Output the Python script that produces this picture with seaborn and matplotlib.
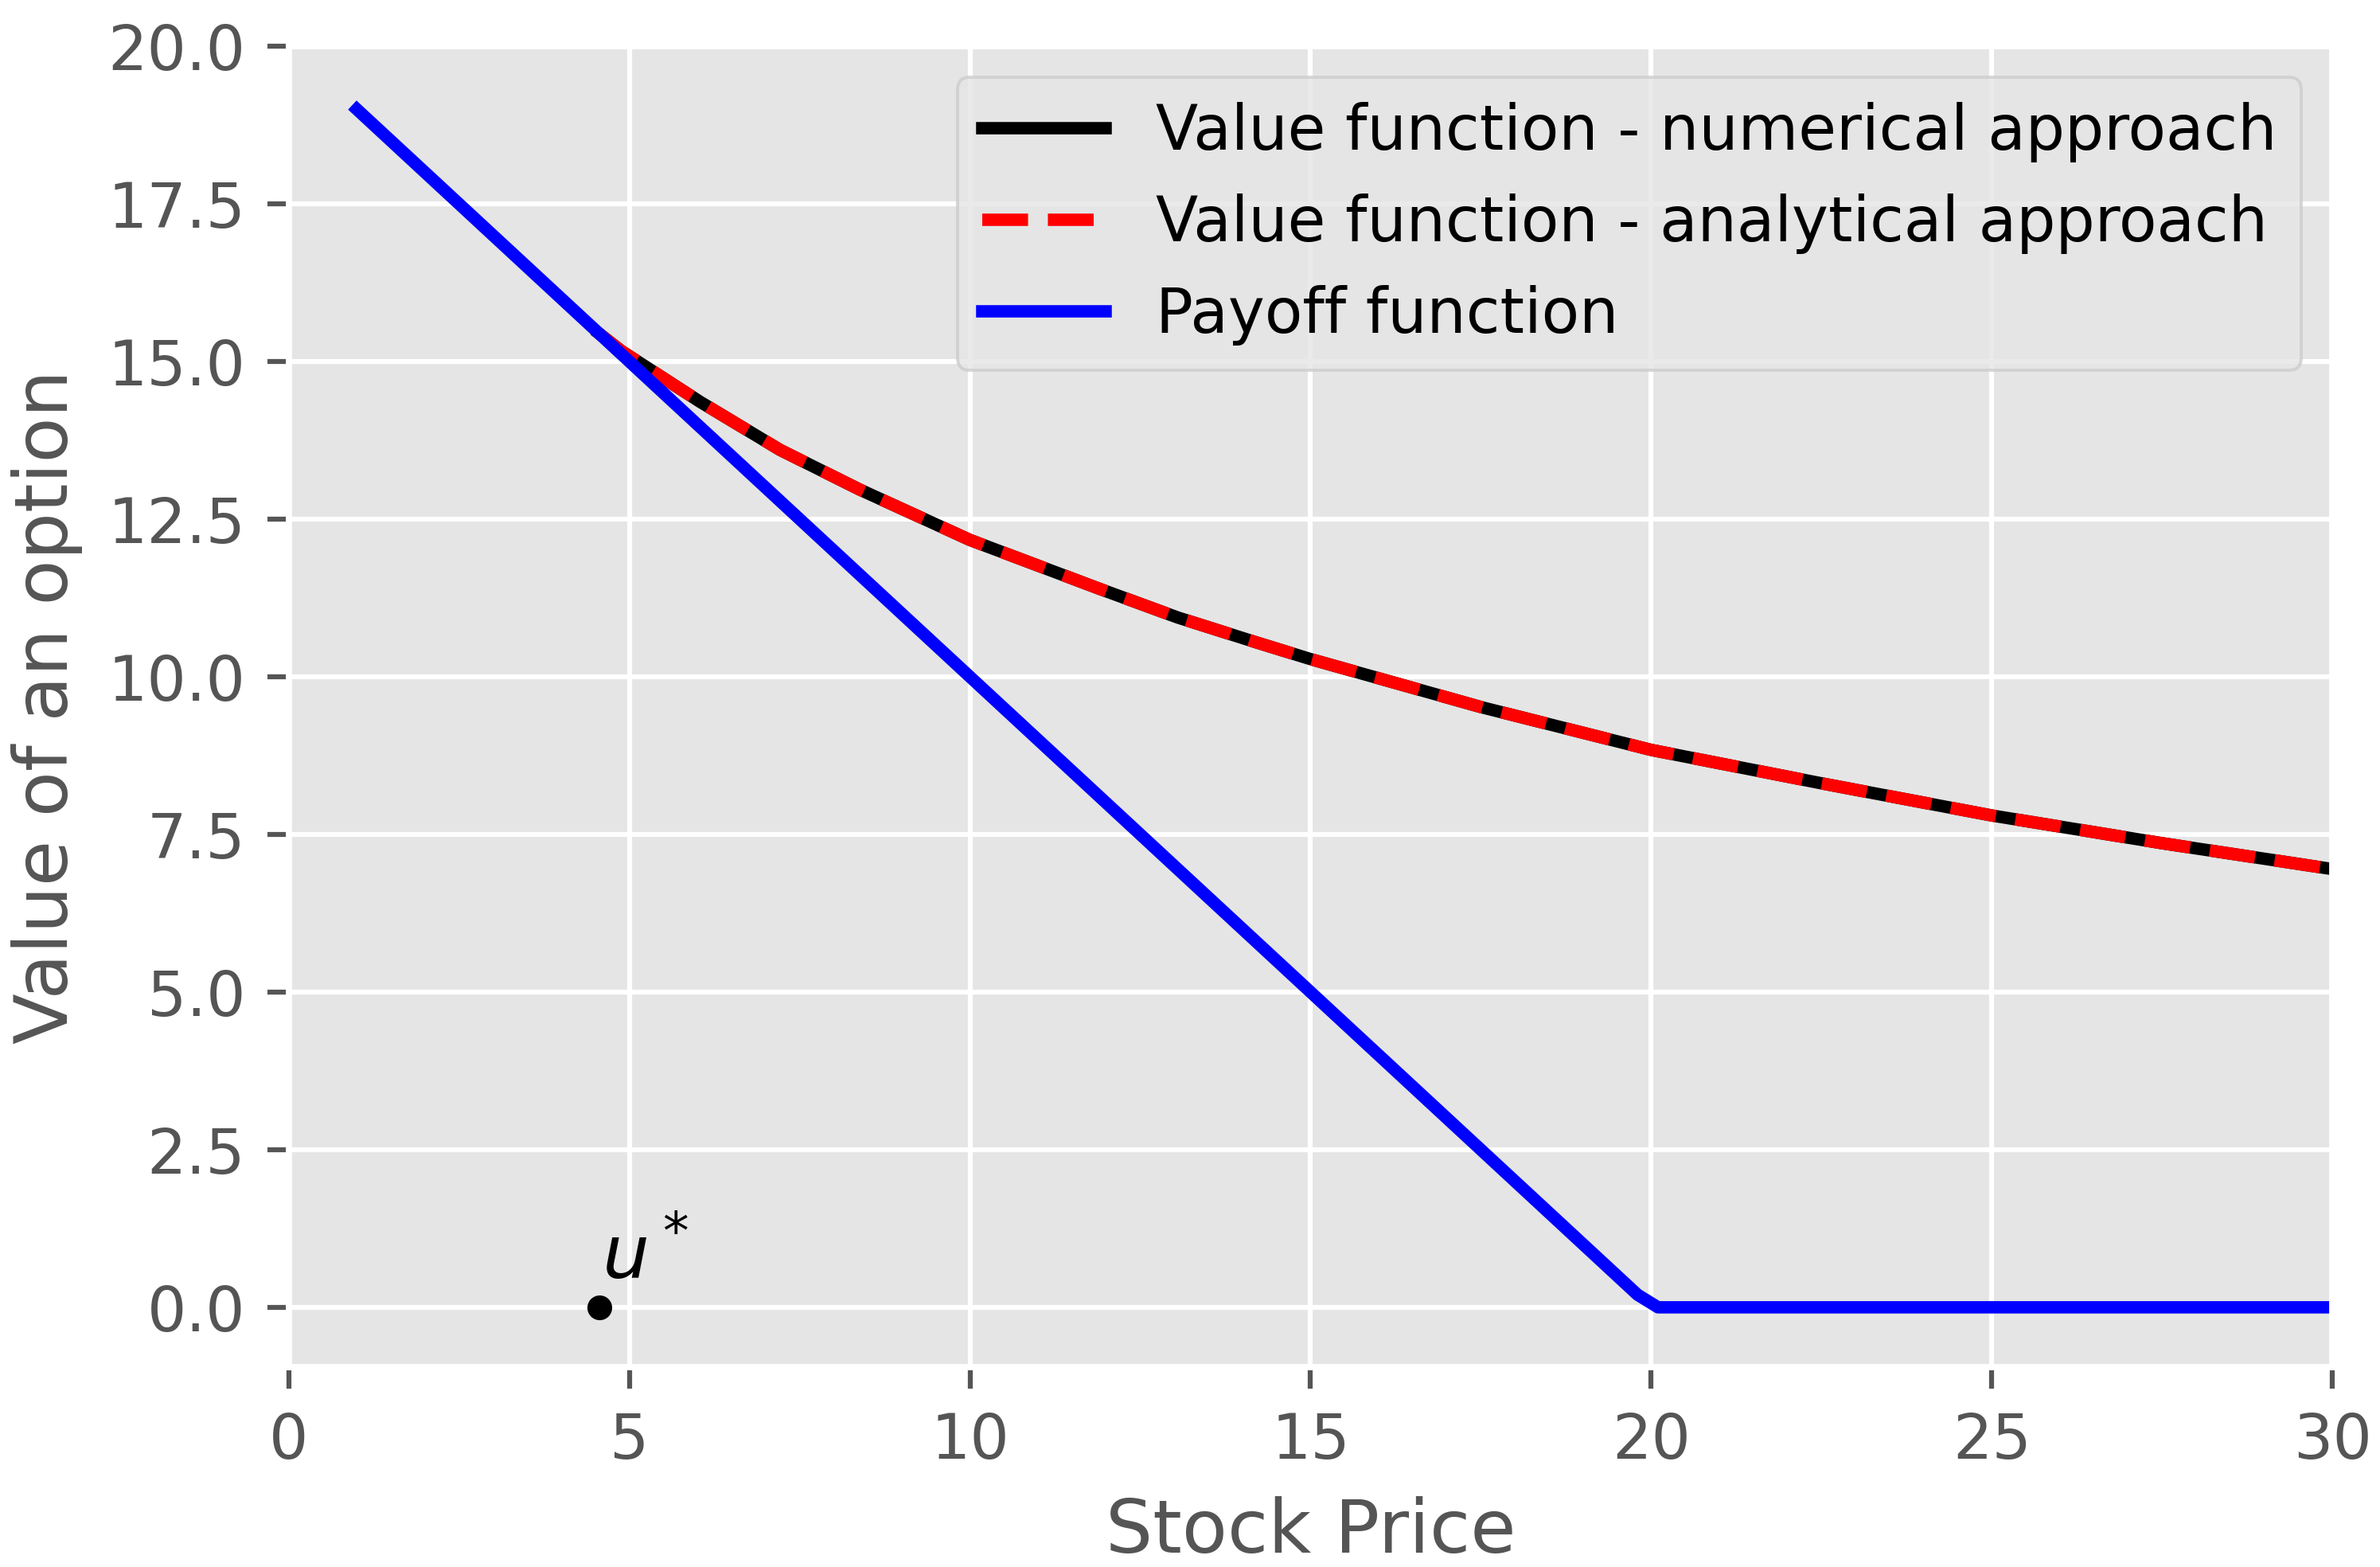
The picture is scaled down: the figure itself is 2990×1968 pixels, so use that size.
import numpy as np
import pandas as pd
import matplotlib
matplotlib.use("Agg")
import matplotlib.pyplot as plt
import seaborn as sns

# === DATA ===
stock_price = [4.56, 4.88, 6.04, 7.21, 8.38, 10.0, 11.89, 13.05, 14.22, 15.0,
               17.5, 20.0, 22.5, 25.0, 27.5, 30.0]
value_numerical = [15.44, 15.17, 14.36, 13.60, 12.97, 12.17, 11.40, 10.94, 10.54, 10.28,
                   9.52, 8.84, 8.31, 7.80, 7.36, 6.95]
value_analytical = [15.44, 15.17, 14.36, 13.60, 12.97, 12.17, 11.40, 10.94, 10.54, 10.28,
                    9.52, 8.84, 8.31, 7.80, 7.36, 6.95]

payoff_price = [1.0, 19.8, 20.1, 30.0]
payoff_value = [19.0, 0.2, 0.0, 0.0]

u_star = 4.56

# === STYLE ===
plt.style.use("ggplot")
plt.rcParams["font.family"] = ["DejaVu Sans"]

# small figure at high dpi -> everything scales like the original
fig, ax = plt.subplots(figsize=(2990 / 560, 1968 / 560), dpi=560)
fig.subplots_adjust(left=0.1213, right=0.98, bottom=0.1275, top=0.9705)

lw = 2
sns.lineplot(x=stock_price, y=value_numerical, ax=ax, color="black", lw=lw,
             label="Value function - numerical approach")
sns.lineplot(x=stock_price, y=value_analytical, ax=ax, color="red", lw=lw,
             linestyle="--", label="Value function - analytical approach")
sns.lineplot(x=payoff_price, y=payoff_value, ax=ax, color="blue", lw=lw,
             label="Payoff function")

# optimal exercise boundary
sns.scatterplot(x=[u_star], y=[0.0], ax=ax, color="black", s=16, linewidth=0,
                legend=False, zorder=5)
ax.text(u_star + 0.03, 0.45, r"$u^*$", fontsize=12, color="black",
        ha="left", va="baseline")

ax.set_xlim(0, 30)
ax.set_ylim(-0.95, 19.95)
ax.set_xticks([0, 5, 10, 15, 20, 25, 30])
yt = np.arange(0, 20.1, 2.5)
ax.set_yticks(yt)
ax.set_yticklabels([f"{v:.1f}" for v in yt])

ax.set_xlabel("Stock Price")
ax.set_ylabel("Value of an option")

ax.legend(loc="upper right")

fig.savefig("out.png", dpi=560)
